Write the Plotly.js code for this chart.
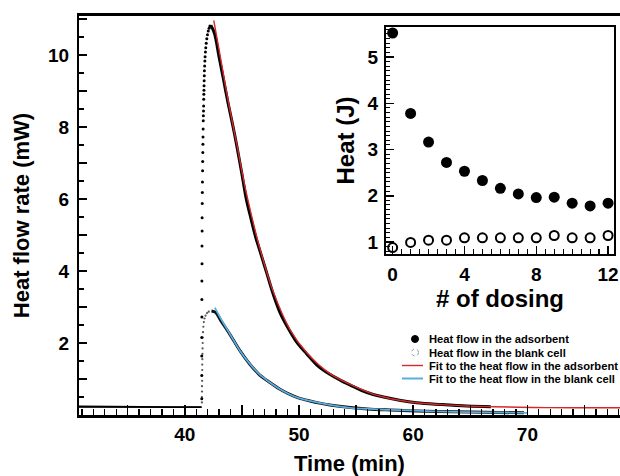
<!DOCTYPE html>
<html>
<head>
<meta charset="utf-8">
<script src="https://cdn.plot.ly/plotly-3.0.1.min.js"></script>
<style>html,body{margin:0;padding:0;background:#fff;}#chart{width:620px;height:476px;}</style>
</head>
<body>
<div id="chart"></div>
<script>
// ---------- Main panel data (Time in min, heat flow in mW) ----------
const adsBaseTime = [30.74, 33, 36, 39, 41.45];
const adsBaseFlow = [0.24, 0.23, 0.22, 0.22, 0.22];

const adsRiseTime = [41.49,41.49,41.49,41.49,41.50,41.50,41.50,41.51,41.51,41.52,41.52,41.53,41.54,41.55,41.56,41.57,41.58,41.59,41.60,41.61,41.62,41.63,41.64,41.65,41.66,41.67,41.68,41.69,41.70,41.71,41.72,41.74,41.76,41.78,41.81,41.84,41.88,41.93,41.99,42.06,42.13,42.20];
const adsRiseFlow = [0.45,1.10,1.64,2.15,2.72,3.21,3.72,4.20,4.69,5.11,5.48,5.87,6.18,6.47,6.78,7.04,7.29,7.52,7.72,7.94,8.17,8.31,8.44,8.58,8.77,8.91,9.02,9.14,9.28,9.42,9.56,9.69,9.83,9.95,10.08,10.20,10.32,10.45,10.56,10.66,10.74,10.80];

const adsDecayTime = [42.28,42.6,43.0,43.36,43.8,44.2,44.53,45.0,45.4,45.8,46.2,46.58,47.2,47.75,48.4,49.2,49.9,50.7,51.6,52.7,53.6,54.5,55.5,56.5,57.4,58.8,60.3,62.5,64.7,66.8];
const adsDecayFlow = [10.82,10.6,9.95,9.37,8.65,8.05,7.52,6.70,5.98,5.45,4.95,4.56,3.92,3.35,2.80,2.33,1.98,1.69,1.38,1.13,0.97,0.83,0.68,0.57,0.50,0.41,0.34,0.29,0.25,0.23];

const adsFitTime = [42.54,43.0,43.5,44.0,44.6,45.2,45.8,46.58,47.75,49.2,50.7,52.7,54.5,56.5,57.4,58.8,60.3,62.5,64.7,67.0,70.5,74.0,78.2];
const adsFitFlow = [10.96,10.15,9.25,8.40,7.45,6.45,5.60,4.62,3.42,2.38,1.72,1.15,0.85,0.58,0.50,0.41,0.34,0.29,0.25,0.23,0.21,0.20,0.20];

const blankBaseTime = [30.74, 34, 38, 41.5];
const blankBaseFlow = [0.22, 0.22, 0.22, 0.22];

const blankRiseTime = [41.50,41.50,41.51,41.51,41.52,41.52,41.53,41.53,41.54,41.55,41.56,41.57,41.58,41.60,41.63,41.67,41.73,41.82,41.95,42.10];
const blankRiseFlow = [0.35,0.50,0.65,0.80,0.95,1.10,1.25,1.40,1.55,1.70,1.85,2.00,2.15,2.30,2.45,2.58,2.68,2.76,2.83,2.87];

const blankDecayTime = [42.34,42.7,43.2,43.95,44.8,45.7,46.5,47.46,48.3,49.2,50.0,50.96,51.8,52.7,54.5,56.0,58.0,59.6,62.0,65.0,67.5,69.7];
const blankDecayFlow = [2.89,2.85,2.60,2.24,1.80,1.41,1.13,0.90,0.72,0.57,0.47,0.39,0.33,0.28,0.21,0.17,0.14,0.12,0.10,0.08,0.07,0.06];

const blankFitTime = [42.63,43.2,43.95,44.8,45.7,46.5,47.46,48.3,49.2,50.0,50.96,52.7,54.5,56.0,58.0,59.6,62.0,65.0,67.5,70.0];
const blankFitFlow = [2.98,2.65,2.25,1.80,1.42,1.14,0.90,0.72,0.57,0.47,0.39,0.28,0.20,0.17,0.14,0.13,0.10,0.08,0.07,0.06];

// ---------- Inset data (heat per dosing, J) ----------
const dosing = [0,1,2,3,4,5,6,7,8,9,10,11,12];
const heatAdsorbent = [5.52,3.78,3.16,2.72,2.53,2.33,2.16,2.04,1.96,1.97,1.84,1.78,1.84];
const heatBlank = [0.88,0.99,1.04,1.04,1.09,1.09,1.09,1.09,1.09,1.14,1.09,1.09,1.14];

// ---------- Tick labels & legend labels ----------
const timeTickVals = [35,40,45,50,55,60,65,70,75];
const timeTickText = ['','40','','50','','60','','70',''];
const flowTickVals = [0,1,2,3,4,5,6,7,8,9,10,11];
const flowTickText = ['','','2','','4','','6','','8','','10',''];
const legendLabels = ['Heat flow in the adsorbent','Heat flow in the blank cell','Fit to the heat flow in the adsorbent','Fit to the heat flow in the blank cell'];

// ---------- Layout helpers (pixel -> paper) ----------
const W = 620, H = 476, ML = 79, MR = 0, MT = 16, MB = 61;
const PW = W - ML - MR, PH = H - MT - MB;
const px = x => (x - ML) / PW;
const py = y => (H - MB - y) / PH;

const FONT = 'Liberation Sans, Arial, Helvetica, sans-serif';
const RED = '#d42a2a', BLUE = '#5aaedf';

const traces = [
  {x: adsBaseTime, y: adsBaseFlow, mode: 'lines', line: {color: '#000', width: 1.6}, showlegend: false},
  {x: blankBaseTime, y: blankBaseFlow, mode: 'lines', line: {color: '#000', width: 1.2}, showlegend: false},
  {x: blankRiseTime, y: blankRiseFlow, mode: 'markers', marker: {color: '#555', size: 2.2}, showlegend: false},
  {x: adsRiseTime, y: adsRiseFlow, mode: 'markers', marker: {color: '#000', size: 3}, showlegend: false},
  {x: adsDecayTime, y: adsDecayFlow, mode: 'lines', line: {color: '#000', width: 3, shape: 'spline'}, showlegend: false},
  {x: blankDecayTime, y: blankDecayFlow, mode: 'lines', line: {color: '#111', width: 3, shape: 'spline'}, showlegend: false},
  {x: adsFitTime, y: adsFitFlow, mode: 'lines', line: {color: RED, width: 1.4, shape: 'spline'}, showlegend: false},
  {x: blankFitTime, y: blankFitFlow, mode: 'lines', line: {color: BLUE, width: 1.8, shape: 'spline'}, showlegend: false},
  {x: dosing, y: heatAdsorbent, xaxis: 'x2', yaxis: 'y2', mode: 'markers',
   marker: {color: '#000', size: 11}, showlegend: false},
  {x: dosing, y: heatBlank, xaxis: 'x2', yaxis: 'y2', mode: 'markers',
   marker: {symbol: 'circle-open', color: '#000', size: 9, line: {width: 2, color: '#000'}}, showlegend: false}
];

const tickFont = {family: FONT, size: 19, color: '#000', weight: 'bold'};
const titleFont = {family: FONT, size: 22, color: '#000', weight: 'bold'};
const insetTitleFont = {family: FONT, size: 24, color: '#000', weight: 'bold'};

const legendFont = {family: FONT, size: 11.2, color: '#000', weight: 'bold'};
const legRows = [339, 352.5, 365.5, 378.5];
const annotations = legendLabels.map((t, i) => ({
  xref: 'paper', yref: 'paper', x: px(427), y: py(legRows[i]), xanchor: 'left', yanchor: 'middle',
  text: t, showarrow: false, font: legendFont
}));
const r = 3.5;
const shapes = [
  {type: 'circle', xref: 'paper', yref: 'paper', x0: px(415 - r), x1: px(415 + r), y0: py(legRows[0] + r), y1: py(legRows[0] - r),
   fillcolor: '#000', line: {color: '#000', width: 1}},
  {type: 'circle', xref: 'paper', yref: 'paper', x0: px(415 - r), x1: px(415 + r), y0: py(legRows[1] + r), y1: py(legRows[1] - r),
   fillcolor: 'rgba(0,0,0,0)', line: {color: '#999', width: 1, dash: 'dot'}},
  {type: 'line', xref: 'paper', yref: 'paper', x0: px(402), x1: px(423), y0: py(legRows[2]), y1: py(legRows[2]),
   line: {color: RED, width: 1.4}},
  {type: 'line', xref: 'paper', yref: 'paper', x0: px(402), x1: px(423), y0: py(legRows[3]), y1: py(legRows[3]),
   line: {color: BLUE, width: 2}}
];

const layout = {
  width: W, height: H,
  margin: {l: ML, r: MR, t: MT, b: MB, pad: 0},
  paper_bgcolor: '#fff', plot_bgcolor: '#fff',
  showlegend: false,
  font: {family: FONT, color: '#000'},
  xaxis: {
    range: [30.74, 78.11], showgrid: false, zeroline: false,
    showline: true, linecolor: '#000', linewidth: 3, mirror: true,
    ticks: 'inside', tickmode: 'array', tickvals: timeTickVals, ticktext: timeTickText,
    ticklen: 10, tickwidth: 1.5, tickcolor: '#000',
    minor: {dtick: 1, tick0: 0, ticklen: 6, tickwidth: 1.3, tickcolor: '#000', ticks: 'inside'},
    tickfont: tickFont, ticklabelstandoff: 0,
    title: {text: 'Time (min)', font: titleFont, standoff: 13},
    automargin: false
  },
  yaxis: {
    range: [0, 11.08], showgrid: false, zeroline: false,
    showline: true, linecolor: '#000', linewidth: 2,
    ticks: 'inside', tickmode: 'array', tickvals: flowTickVals, ticktext: flowTickText,
    ticklen: 8, tickwidth: 1.5, tickcolor: '#000',
    minor: {dtick: 0.5, tick0: 0, ticklen: 5, tickwidth: 1.3, tickcolor: '#000', ticks: 'inside'},
    tickfont: tickFont, ticklabelstandoff: 4,
    title: {text: 'Heat flow rate (mW)', font: titleFont, standoff: 12},
    automargin: false
  },
  xaxis2: {
    domain: [px(386), px(614)], anchor: 'y2', range: [-0.37, 12.33],
    showgrid: false, zeroline: false, showline: true, linecolor: '#000', linewidth: 2, mirror: true,
    ticks: 'inside', dtick: 4, tick0: 0, ticklen: 8, tickwidth: 1.5, tickcolor: '#000',
    minor: {dtick: 0.5, tick0: 0, ticklen: 5, tickwidth: 1.2, tickcolor: '#000', ticks: 'inside'},
    tickfont: tickFont, ticklabelstandoff: 2,
    title: {text: '# of dosing', font: insetTitleFont, standoff: 0},
    automargin: false
  },
  yaxis2: {
    domain: [py(254), py(27)], anchor: 'x2', range: [0.74, 5.65],
    showgrid: false, zeroline: false, showline: true, linecolor: '#000', linewidth: 2, mirror: true,
    ticks: 'inside', dtick: 1, tick0: 0, ticklen: 8, tickwidth: 1.5, tickcolor: '#000',
    minor: {dtick: 0.1, tick0: 0, ticklen: 4, tickwidth: 1, tickcolor: '#000', ticks: 'inside'},
    tickfont: tickFont, ticklabelstandoff: 2,
    title: {text: 'Heat (J)', font: insetTitleFont, standoff: 6},
    automargin: false
  },
  annotations: annotations,
  shapes: shapes
};

Plotly.newPlot('chart', traces, layout, {displayModeBar: false, staticPlot: true});
</script>
</body>
</html>
